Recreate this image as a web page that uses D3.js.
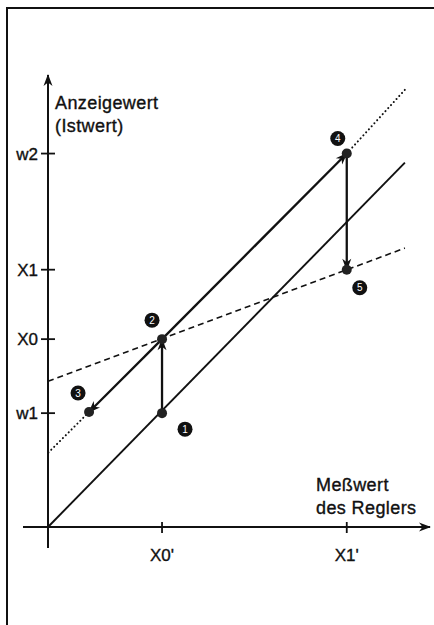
<!DOCTYPE html>
<html>
<head>
<meta charset="utf-8">
<script src="https://cdn.jsdelivr.net/npm/d3@7"></script>
<style>
  body { margin: 0; background: #fff; }
  text { font-family: "Liberation Sans", Arial, sans-serif; fill: #111; }
  .lbl { stroke: #111; stroke-width: 0.35px; }
</style>
</head>
<body>
<script>
// Werte in Achseneinheiten (X0' = 1)
const xTicks = [{ label: "X0'", value: 1 }, { label: "X1'", value: 2.62 }];
const yTicks = [
  { label: "w2", value: 3.28 },
  { label: "X1", value: 2.26 },
  { label: "X0", value: 1.65 },
  { label: "w1", value: 1.0 }
];
// Kennlinien
const baseLine = [[0, 0], [3.13, 3.2]];          // ursprüngliche Kennlinie
const dottedUpper = [[2.62, 3.28], [3.13, 3.84]]; // verschobene Kennlinie (Verlängerung)
const dottedLower = [[0.36, 1.01], [0, 0.65]];
const dashedLine = [[0, 1.28], [3.13, 2.45]];
// Punkte 1..5
const points = [
  { n: 1, x: 1, y: 1.0, dx: 23, dy: 16 },
  { n: 2, x: 1, y: 1.65, dx: -10, dy: -19 },
  { n: 3, x: 0.36, y: 1.01, dx: -11, dy: -19 },
  { n: 4, x: 2.62, y: 3.28, dx: -9, dy: -15 },
  { n: 5, x: 2.62, y: 2.26, dx: 13, dy: 18 }
];
// Pfeile (von Punkt, zu Punkt)
const arrows = [[1, 2], [2, 4], [2, 3], [4, 5]];

const W = 434, H = 625;
const x = d3.scaleLinear().domain([0, 3.35]).range([48, 430]);
const y = d3.scaleLinear().domain([0, 3.97]).range([527, 75]);

const svg = d3.select("body").append("svg")
    .attr("width", W)
    .attr("height", H);

const defs = svg.append("defs");
defs.append("marker")
    .attr("id", "head")
    .attr("viewBox", "0 0 12 10")
    .attr("refX", 11)
    .attr("refY", 5)
    .attr("markerWidth", 13)
    .attr("markerHeight", 10)
    .attr("markerUnits", "userSpaceOnUse")
    .attr("orient", "auto")
  .append("path")
    .attr("d", "M0,0.5 L12,5 L0,9.5 L3.5,5 Z")
    .attr("fill", "#111");

// Rahmen
svg.append("path")
    .attr("d", `M7,${H} L7,8 L${W},8`)
    .attr("fill", "none")
    .attr("stroke", "#111")
    .attr("stroke-width", 2);

const line = d3.line().x(d => x(d[0])).y(d => y(d[1]));

// Achsen
svg.append("line")
    .attr("x1", x(0)).attr("x2", x(0))
    .attr("y1", y(0) + 21).attr("y2", y(3.97))
    .attr("stroke", "#111").attr("stroke-width", 2)
    .attr("marker-end", "url(#head)");
svg.append("line")
    .attr("x1", x(0) - 25).attr("x2", x(3.35))
    .attr("y1", y(0)).attr("y2", y(0))
    .attr("stroke", "#111").attr("stroke-width", 2)
    .attr("marker-end", "url(#head)");

// Y-Ticks
const yt = svg.selectAll(".ytick").data(yTicks).enter().append("g")
    .attr("transform", d => `translate(${x(0)},${y(d.value)})`);
yt.append("line").attr("x1", -7).attr("x2", 7)
    .attr("stroke", "#111").attr("stroke-width", 1.8);
yt.append("text").attr("class", "lbl").attr("x", -10).attr("dy", "0.36em")
    .attr("text-anchor", "end")
    .style("font-size", "17px")
    .text(d => d.label);

// X-Ticks
const xt = svg.selectAll(".xtick").data(xTicks).enter().append("g")
    .attr("transform", d => `translate(${x(d.value)},${y(0)})`);
xt.append("line").attr("y1", -5).attr("y2", 6)
    .attr("stroke", "#111").attr("stroke-width", 1.8);
xt.append("text").attr("class", "lbl").attr("y", 34)
    .attr("text-anchor", "middle")
    .style("font-size", "17px")
    .text(d => d.label);

// Achsenbeschriftungen
const axisLabels = [
  { t: "Anzeigewert", x: 55, y: 109 },
  { t: "(Istwert)", x: 55, y: 132 },
  { t: "Meßwert", x: 316, y: 491 },
  { t: "des Reglers", x: 316, y: 514 }
];
svg.selectAll(".al").data(axisLabels).enter().append("text")
    .attr("class", "lbl")
    .attr("x", d => d.x).attr("y", d => d.y)
    .style("font-size", "18px")
    .style("letter-spacing", "0.4px")
    .text(d => d.t);

// Kennlinien
svg.append("path").attr("d", line(baseLine))
    .attr("fill", "none").attr("stroke", "#111").attr("stroke-width", 1.9);
svg.append("path").attr("d", line(dashedLine))
    .attr("fill", "none").attr("stroke", "#111").attr("stroke-width", 1.6)
    .attr("stroke-dasharray", "6,4");
[dottedUpper, dottedLower].forEach(seg => {
  svg.append("path").attr("d", line(seg))
      .attr("fill", "none").attr("stroke", "#111").attr("stroke-width", 2)
      .attr("stroke-linecap", "round")
      .attr("stroke-dasharray", "0.1,4");
});

// Pfeile
const byN = new Map(points.map(p => [p.n, p]));
arrows.forEach(([a, b]) => {
  const p = byN.get(a), q = byN.get(b);
  svg.append("line")
      .attr("x1", x(p.x)).attr("y1", y(p.y))
      .attr("x2", x(q.x)).attr("y2", y(q.y))
      .attr("stroke", "#111").attr("stroke-width", 2.3)
      .attr("marker-end", "url(#head)");
});

// Punkte
svg.selectAll(".pt").data(points).enter().append("circle")
    .attr("cx", d => x(d.x)).attr("cy", d => y(d.y))
    .attr("r", 5).attr("fill", "#222");

// Nummern
const nums = svg.selectAll(".num").data(points).enter().append("g")
    .attr("transform", d => `translate(${x(d.x) + d.dx},${y(d.y) + d.dy})`);
nums.append("circle").attr("r", 7.5).attr("fill", "#111");
nums.append("text").attr("dy", "0.36em").attr("text-anchor", "middle")
    .style("font-size", "10px")
    .style("fill", "#fff")
    .text(d => d.n);
</script>
</body>
</html>
